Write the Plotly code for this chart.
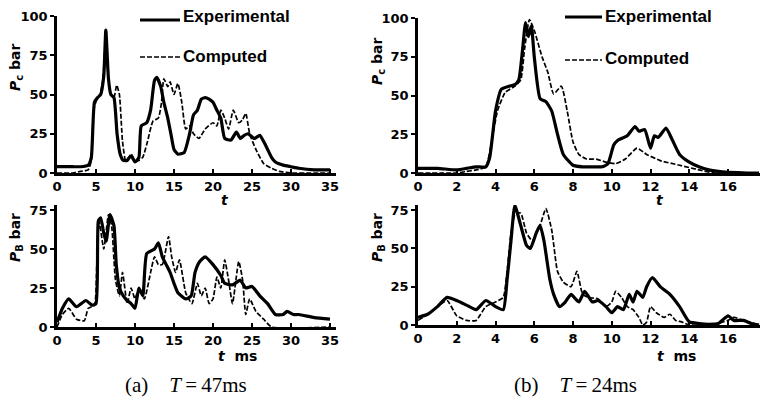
import plotly.graph_objects as go

# ---------------- data ----------------
# (a) T=47ms, chamber pressure Pc
a_top_exp_t = [0,1,2,3,4, 4.4,4.8,5.2,5.6,6.0, 6.26,6.6,6.9,7.3,7.7, 8.1,8.5,9,9.5,10,
               10.5,10.8,11.5,12,12.5, 12.8,13.3,13.7,14.2,14.6, 15,15.5,16.3,17,17.5,
               18,18.5,19,19.5,20, 20.5,21,21.5,22.3,23, 23.5,24,24.5,25.3,26,
               26.5,27,27.5,28,29, 30,31,33,35]
a_top_exp_p = [4,4,4,4,5, 10,45,48,50,62, 91,60,50,48,25, 12,8,8,11,7,
               10,30,32,40,59, 61,55,45,35,25, 15,12,13,25,37,
               40,47,48,47,45, 40,35,22,21,26, 22,24,25,22,24,
               20,15,10,7,5, 4,3,2,2]
a_top_com_t = [0,2,3,4,4.4, 4.7,5.1,5.5,5.9,6.2, 6.5,6.9,7.3,7.65,8.0, 8.4,8.8,9.2,9.5,10,
               10.5,11,11.6,12.3,13, 13.4,13.7,14.2,14.5,15, 15.5,16,16.5,17,17.5,
               18.2,19,20,20.5,21, 21.5,22,22.6,23.3,23.8, 24.2,24.7,25.5,26.5,27.5,
               28.5,30,35]
a_top_com_p = [0,0,1,2,8, 40,47,50,60,85, 65,50,48,56,50, 20,8,10,12,8,
               8,10,20,33,35, 45,60,55,58,50, 57,45,28,30,25,
               22,28,32,30,40, 35,28,40,32,34, 38,25,15,6,3,
               1,0,0]

# (a) T=47ms, pressure PB
a_bot_exp_t = [0,0.7,1.5,2.5,3.7, 4.5,5.0,5.3,5.6,6.0, 6.3,6.8,7.3,7.6,8.0, 8.5,9,9.5,10,10.5,
               11,11.5,12.5,13,13.5, 14,14.5,15,15.5,16.5, 17.2,17.7,18.3,19,20,
               21,21.5,22.5,23.5,24.2, 25,26,27,28,29, 29.5,30.3,31,33,35]
a_bot_exp_p = [3,12,18,13,17, 14,15,68,70,60, 55,72,65,40,25, 20,17,15,12,25,
               20,47,50,54,45, 40,35,28,22,18, 20,35,42,45,40,
               33,28,27,30,25, 26,20,15,8,8, 10,8,8,6,5]
a_bot_com_t = [0,0.7,1.5,2.5,3.5, 4.0,4.8,5.1,5.4,6.0, 6.6,7.0,7.5,8.0,8.4, 9.0,9.5,10,10.5,11.2,
               12,12.5,13,13.5,14.3, 14.7,15.2,15.7,16.5,17.3, 18,18.5,19,19.5,20,
               20.5,21,21.5,22,22.5, 23.3,23.8,24.2,24.7,25.5, 26.5,27.5,35]
a_bot_com_p = [0,8,12,5,4, 12,14,40,68,50, 72,65,30,20,35, 15,25,18,25,18,
               35,45,40,40,58, 45,35,43,22,15, 28,20,25,15,18,
               32,25,43,30,15, 42,30,8,18,10, 5,0,0]

# (b) T=24ms, chamber pressure Pc
b_top_exp_t = [0,1,2,2.5,3, 3.5,3.7,4,4.3,4.7, 5,5.2,5.4,5.55,5.7, 5.85,6.0,6.3,6.6,6.9,
               7.2,7.5,8,8.5,9, 9.5,9.8,10.1,10.3,10.8, 11.2,11.4,11.7,12.0,12.2,
               12.4,12.8,13.1,13.5,14, 14.5,15,15.5,16,17, 17.6]
b_top_exp_p = [3,3,2,3,4, 4,10,40,54,56, 57,60,80,97,88, 95,75,48,46,40,
               25,12,5,4,4, 4,6,18,21,24, 30,27,28,16,24,
               23,29,22,12,7, 4,2,1,0.5,0, 0]
b_top_com_t = [0,2,2.5,3,3.5, 3.8,4.1,4.5,5,5.3, 5.5,5.75,6.0,6.4,6.7, 7.0,7.4,7.7,8.0,8.3,
               8.7,9.2,9.7,10.2,10.7, 11.3,11.8,12.5,13.5,14.5, 15.3,17.6]
b_top_com_p = [0,0,1,2,4, 20,40,52,56,60, 80,99,92,75,65, 51,56,40,20,12,
               9,9,7,6,9, 16,12,8,5,2, 0,0]

# (b) T=24ms, pressure PB
b_bot_exp_t = [0,0.5,1,1.5,2, 2.5,3,3.5,4,4.4, 4.6,4.8,5.0,5.3,5.6, 5.8,6.1,6.3,6.5,6.8,
               7.0,7.3,7.6,7.9,8.3, 8.6,9.0,9.3,9.7,10, 10.3,10.6,10.9,11.1,11.3,
               11.6,11.8,12.1,12.5,13, 13.5,14,14.5,15,15.5, 16,16.3,16.8,17.2,17.6]
b_bot_exp_p = [5,7,12,18,16, 13,10,16,12,10, 30,55,78,65,52, 50,60,65,55,30,
               20,12,15,20,15, 22,15,16,12,8, 12,10,20,15,22,
               18,25,31,25,20, 12,2,1,0.5,1, 6,3,3,1,0]
b_bot_com_t = [0,0.5,1,1.5,2, 2.5,3,3.5,4,4.4, 4.6,4.8,5.0,5.3,5.6, 5.9,6.3,6.6,6.9,7.2,
               7.5,7.9,8.2,8.5,8.8, 9.3,9.7,10.0,10.2,10.5, 10.8,11.1,11.4,11.6,11.8,
               12.0,12.3,12.7,13.0,13.3, 13.6,14,15,15.5,16, 16.3,16.8,17.6]
b_bot_com_p = [3,7,12,16,6, 3,3,12,15,18, 35,60,72,73,60, 55,65,76,62,35,
               28,25,35,20,18, 17,12,15,22,18, 12,10,5,0,2,
               12,8,5,7,3, 2,0,0,1,3, 5,3,0]

a_xticks = [0, 5, 10, 15, 20, 25, 30, 35]
b_xticks = [0, 2, 4, 6, 8, 10, 12, 14, 16]
top_yticks = [0, 25, 50, 75, 100]
bot_yticks = [0, 25, 50, 75]
legend_labels = ["Experimental", "Computed"]
captions = ["(a)\u00a0\u00a0\u00a0\u00a0<i>T</i>\u2009=\u200947ms",
            "(b)\u00a0\u00a0\u00a0\u00a0<i>T</i>\u2009=\u200924ms"]

# ---------------- layout helpers ----------------
W, H = 761, 402
def fx(px):
    return px / W
def fy(py):
    return 1 - py / H

fig = go.Figure()

panels = [
    ("x", "y", a_top_exp_t, a_top_exp_p, a_top_com_t, a_top_com_p),
    ("x2", "y2", a_bot_exp_t, a_bot_exp_p, a_bot_com_t, a_bot_com_p),
    ("x3", "y3", b_top_exp_t, b_top_exp_p, b_top_com_t, b_top_com_p),
    ("x4", "y4", b_bot_exp_t, b_bot_exp_p, b_bot_com_t, b_bot_com_p),
]
for xa, ya, te, pe, tc, pc in panels:
    fig.add_trace(go.Scatter(x=tc, y=pc, xaxis=xa, yaxis=ya, mode="lines",
                             line=dict(color="black", width=1.7, dash="5px,2px",
                                       shape="spline", smoothing=0.5),
                             showlegend=False, hoverinfo="skip"))
    fig.add_trace(go.Scatter(x=te, y=pe, xaxis=xa, yaxis=ya, mode="lines",
                             line=dict(color="black", width=3.2,
                                       shape="spline", smoothing=0.5),
                             showlegend=False, hoverinfo="skip"))

tickfont = dict(family="DejaVu Sans", size=13, color="black", weight="bold")
common_x = dict(showline=True, linecolor="black", linewidth=2.5, showgrid=False,
                zeroline=False, ticks="inside", ticklen=4, tickwidth=2,
                tickcolor="black", tickfont=tickfont, automargin=False)
common_y = dict(showline=True, linecolor="black", linewidth=2.5, showgrid=False,
                zeroline=False, ticks="outside", ticklen=4, tickwidth=2,
                tickcolor="black", tickfont=tickfont, automargin=False)

ax_a = [fx(57), fx(336)]
ax_b = [fx(418), fx(760)]
fig.update_layout(
    template="none",
    width=W, height=H,
    margin=dict(l=0, r=0, t=0, b=0),
    paper_bgcolor="white", plot_bgcolor="white",
    xaxis=dict(domain=ax_a, range=[0, 35.77], tickvals=a_xticks, anchor="y", **common_x),
    yaxis=dict(domain=[fy(173), fy(16)], range=[0, 100], tickvals=top_yticks, anchor="x", **common_y),
    xaxis2=dict(domain=ax_a, range=[0, 35.77], tickvals=a_xticks, anchor="y2", **common_x),
    yaxis2=dict(domain=[fy(327), fy(205)], range=[0, 78.2], tickvals=bot_yticks, anchor="x2", **common_y),
    xaxis3=dict(domain=ax_b, range=[0, 17.65], tickvals=b_xticks, anchor="y3", **common_x),
    yaxis3=dict(domain=[fy(173), fy(18)], range=[0, 100], tickvals=top_yticks, anchor="x3", **common_y),
    xaxis4=dict(domain=ax_b, range=[0, 17.65], tickvals=b_xticks, anchor="y4", **common_x),
    yaxis4=dict(domain=[fy(325), fy(205)], range=[0, 78.3], tickvals=bot_yticks, anchor="x4", **common_y),
)

lab_font = dict(family="DejaVu Sans", size=14, color="black", weight="bold")
leg_font = dict(family="Liberation Sans", size=17, color="black", weight="bold")
cap_font = dict(family="Liberation Serif", size=21, color="black")

annotations = []
def ann(x, y, text, font, angle=0, xanchor="center"):
    annotations.append(dict(x=fx(x), y=fy(y), xref="paper", yref="paper", text=text,
                            showarrow=False, font=font, textangle=angle,
                            xanchor=xanchor, yanchor="middle"))

# y-axis titles
ann(16, 68, "<i>P</i><sub>c</sub> bar", lab_font, -90)
ann(16, 238, "<i>P</i><sub>B</sub> bar", lab_font, -90)
ann(378, 62, "<i>P</i><sub>c</sub> bar", lab_font, -90)
ann(378, 238, "<i>P</i><sub>B</sub> bar", lab_font, -90)
# x-axis titles
ann(225, 200, "<i>t</i>", lab_font)
ann(660, 200, "<i>t</i>", lab_font)
ann(238, 356, "<i>t</i>\u00a0\u00a0ms", lab_font)
ann(676, 356, "<i>t</i>\u00a0\u00a0ms", lab_font)
# captions
ann(186, 385, captions[0], cap_font)
ann(575, 385, captions[1], cap_font)

# legends (line sample y, text y)
shapes = []
for x0, x1, lines in [(140, 180, ((20, 16), (57, 56))), (565, 602, ((17, 16), (60, 58)))]:
    (ly0, ty0), (ly1, ty1) = lines
    shapes.append(dict(type="line", xref="paper", yref="paper", x0=fx(x0), x1=fx(x1),
                       y0=fy(ly0), y1=fy(ly0), line=dict(color="black", width=3.2)))
    shapes.append(dict(type="line", xref="paper", yref="paper", x0=fx(x0), x1=fx(x1),
                       y0=fy(ly1), y1=fy(ly1),
                       line=dict(color="black", width=1.7, dash="5px,2px")))
    ann(x1 + 1, ty0, legend_labels[0], leg_font, xanchor="left")
    ann(x1 + 1, ty1, legend_labels[1], leg_font, xanchor="left")

fig.update_layout(annotations=annotations, shapes=shapes)
fig.write_html("out.html", config={"displayModeBar": False},
               post_script="document.body.style.margin='0';document.body.style.padding='0';")
